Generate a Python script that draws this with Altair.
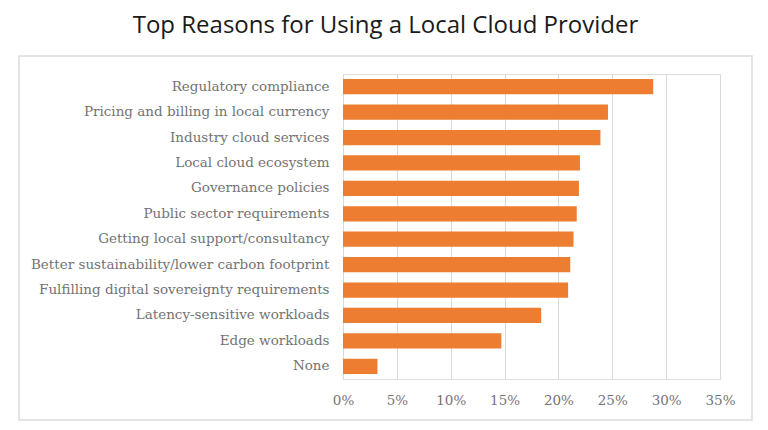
import altair as alt
import pandas as pd

categories = [
    "Regulatory compliance",
    "Pricing and billing in local currency",
    "Industry cloud services",
    "Local cloud ecosystem",
    "Governance policies",
    "Public sector requirements",
    "Getting local support/consultancy",
    "Better sustainability/lower carbon footprint",
    "Fulfilling digital sovereignty requirements",
    "Latency-sensitive workloads",
    "Edge workloads",
    "None",
]
values_pct = [28.8, 24.6, 23.9, 22.0, 21.9, 21.7, 21.4, 21.1, 20.9, 18.4, 14.7, 3.2]
x_ticks = [0, 0.05, 0.10, 0.15, 0.20, 0.25, 0.30, 0.35]

df = pd.DataFrame({"reason": categories, "share": [v / 100 for v in values_pct]})

LABEL_FONT = "DejaVu Serif"
LABEL_COLOR = "#737373"

bars = alt.Chart(df).mark_bar(color="#ED7D31").encode(
    x=alt.X(
        "share:Q",
        scale=alt.Scale(domain=[0, 0.35], nice=False),
        axis=alt.Axis(
            title=None,
            format=".0%",
            values=x_ticks,
            grid=True,
            gridColor="#d9d9d9",
            gridWidth=1,
            domain=False,
            ticks=False,
            labelFlush=False,
            labelPadding=14,
            labelFont=LABEL_FONT,
            labelFontSize=13.5,
            labelColor=LABEL_COLOR,
        ),
    ),
    y=alt.Y(
        "reason:N",
        sort=categories,
        scale=alt.Scale(paddingInner=0.4, paddingOuter=0.2),
        axis=alt.Axis(
            title=None,
            ticks=False,
            domain=False,
            labelPadding=14,
            labelLimit=500,
            labelFont=LABEL_FONT,
            labelFontSize=13.5,
            labelColor=LABEL_COLOR,
        ),
    ),
)

frame = alt.Chart(pd.DataFrame({"a": [0]})).mark_rect(
    filled=False, stroke="#dcdcdc", strokeWidth=1.5
).encode(
    x=alt.value(-324), x2=alt.value(409), y=alt.value(-18), y2=alt.value(346)
)

chart = alt.layer(frame, bars).properties(
    width=377,
    height=305,
    title=alt.TitleParams(
        text="Top Reasons for Using a Local Cloud Provider",
        font="Open Sans",
        fontSize=24,
        fontWeight="normal",
        color="#1a1a1a",
        anchor="middle",
        baseline="alphabetic",
        dx=-146,
        offset=-2,
    ),
    autosize=alt.AutoSizeParams(type="none"),
    padding={"left": 335, "top": 66, "right": 40, "bottom": 43},
).configure_view(stroke=None).configure(background="white")

chart.save("out.html", embed_options={"renderer": "svg", "actions": False})
